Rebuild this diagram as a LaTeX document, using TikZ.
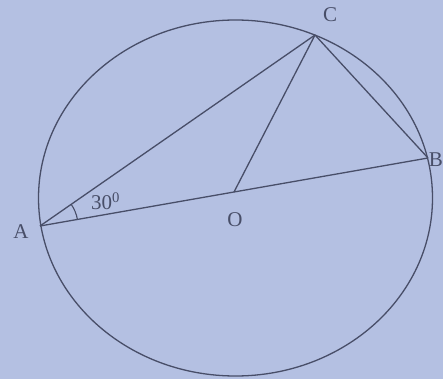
\documentclass[tikz,border=0pt]{standalone}
\usepackage{fontspec}
\setmainfont{Liberation Serif}
\usetikzlibrary{calc}
\definecolor{bg}{RGB}{180,192,226}
\definecolor{ink}{RGB}{72,78,104}
\begin{document}
\begin{tikzpicture}[x=1pt,y=-1pt,
  seg/.style={draw=ink,line width=1.3pt},
  lbl/.style={text=ink,font=\fontsize{21}{21}\selectfont,inner sep=0pt}]
\fill[bg] (0,0) rectangle (443,379);
\useasboundingbox (0,0) rectangle (443,379);
\coordinate (A) at (40,226);
\coordinate (B) at (428,158);
\coordinate (C) at (315,35);
\coordinate (O) at (234,192);
\draw[seg] (235.5,198) ellipse [x radius=197, y radius=178];
\draw[seg] (A) -- (B);
\draw[seg] (A) -- (C);
\draw[seg] (C) -- (B);
\draw[seg] (C) -- (O);
\draw[draw=ink,line width=1.1pt] ($(A)!38pt!(B)$) arc[start angle=-10, end angle=-35, radius=38];
\node[lbl] (la) at (21,232) {A};
\node[lbl] (lo) at (235,220) {O};
\node[lbl] (lc) at (330,15) {C};
\node[lbl,anchor=east] (lb) at (443,160) {B};
\node[lbl,anchor=west] (l30) at (91,201) {30$^{\mathrm{0}}$};
\end{tikzpicture}
\end{document}
